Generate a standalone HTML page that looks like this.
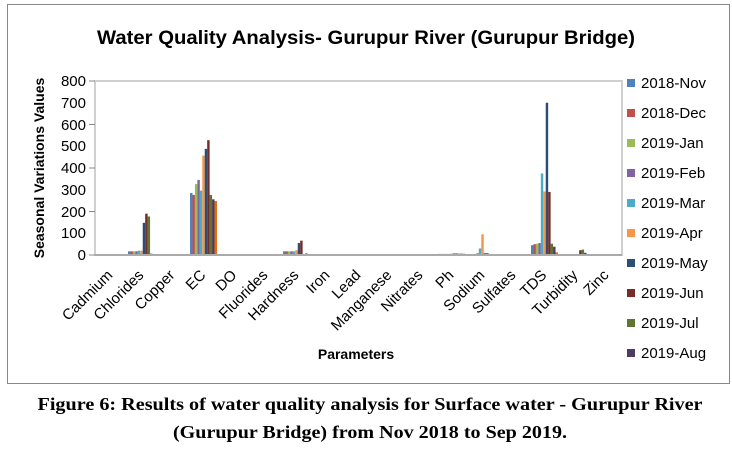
<!DOCTYPE html>
<html><head><meta charset="utf-8"><style>
body{margin:0;background:#fff;width:732px;height:449px;overflow:hidden}
svg text{font-family:"Liberation Sans",sans-serif}
</style></head><body>
<svg width="732" height="449" viewBox="0 0 732 449" xmlns="http://www.w3.org/2000/svg">
<rect x="7.5" y="4.5" width="722" height="379" fill="#fff" stroke="#888" stroke-width="1"/>
<text x="366" y="44" text-anchor="middle" font-weight="bold" font-size="19" textLength="538" lengthAdjust="spacingAndGlyphs">Water Quality Analysis- Gurupur River (Gurupur Bridge)</text>
<rect x="95" y="81" width="527" height="174" fill="none" stroke="#d0d0d0" stroke-width="2"/>
<g font-size="15" text-anchor="end" fill="#000">
<text x="86" y="86">800</text><text x="86" y="108">700</text><text x="86" y="130">600</text><text x="86" y="151">500</text><text x="86" y="173">400</text><text x="86" y="195">300</text><text x="86" y="217">200</text><text x="86" y="238">100</text><text x="86" y="260">0</text>
</g>
<g stroke="#888"><line x1="89" y1="81" x2="95" y2="81"/><line x1="89" y1="255" x2="95" y2="255"/><line x1="89" y1="211.5" x2="95" y2="211.5"/><line x1="89" y1="168" x2="95" y2="168"/><line x1="89" y1="124.5" x2="95" y2="124.5"/></g>
<text transform="translate(44,168) rotate(-90)" text-anchor="middle" font-weight="bold" font-size="14">Seasonal Variations Values</text>
<g id="bars"></g>
<line x1="95" y1="255" x2="622" y2="255" stroke="#aaa" stroke-width="2"/>
<g id="cats" font-size="15"></g>
<text x="356" y="359" text-anchor="middle" font-weight="bold" font-size="14">Parameters</text>
<g id="leg" font-size="15"></g>
<g font-family="'Liberation Serif',serif" font-weight="bold" font-size="18" text-anchor="middle">
<text x="370" y="410" textLength="665" lengthAdjust="spacingAndGlyphs" style="font-family:'Liberation Serif',serif">Figure 6: Results of water quality analysis for Surface water - Gurupur River</text>
<text x="370" y="438" textLength="394" lengthAdjust="spacingAndGlyphs" style="font-family:'Liberation Serif',serif">(Gurupur Bridge) from Nov 2018 to Sep 2019.</text>
</g>
</svg>
<script>
var cols=["#4F81BD","#C0504D","#9BBB59","#8064A2","#4BACC6","#F79646","#2C4D75","#772C2A","#5F7530","#4D3B62","#E46C0A"];
var names=["2018-Nov","2018-Dec","2019-Jan","2019-Feb","2019-Mar","2019-Apr","2019-May","2019-Jun","2019-Jul","2019-Aug"];
var cats=["Cadmium","Chlorides","Copper","EC","DO","Fluorides","Hardness","Iron","Lead","Manganese","Nitrates","Ph","Sodium","Sulfates","TDS","Turbidity","Zinc"];
var z=[0,0,0,0,0,0,0,0,0,0,0];
var d=[z,
[17,17,17,17,20,20,148,190,177,6,3],
[0,0,0,0,0,0,0,0,0,0,0],
[285,276,326,345,296,457,488,528,276,256,248],
[4,4,4,4,4,4,3,4,3,3,3],
[0,0,0,0,0,0,0,0,0,0,0],
[17,17,17,17,17,22,55,66,3,7,3],
z,z,z,z,
[5,5,5,5,5,6,7,7,6,6,6],
[1,1,1,8,30,95,8,8,2,1,2],
[3,3,3,3,3,3,3,3,3,3,3],
[45,50,52,55,375,292,700,290,52,38,12],
[0,0,0,0,0,0,0,22,25,10,2],
[3,3,3,3,3,3,3,3,4,4,3]];
var s="",w=31,bw=2.45;
for(var c=0;c<17;c++){var cx=95+w*c+w/2,x0=cx-bw*5.5;
for(var k=0;k<11;k++){var v=d[c][k];if(v<=0)continue;var h=v*174/800;
s+='<rect x="'+(x0+k*bw).toFixed(2)+'" y="'+(255-h).toFixed(2)+'" width="'+bw+'" height="'+h.toFixed(2)+'" fill="'+cols[k]+'"/>';}}
document.getElementById("bars").innerHTML=s;
s="";for(var c=0;c<17;c++){var cx=95+w*c+w/2+3;
s+='<text transform="translate('+cx+',276) rotate(-45)" text-anchor="end">'+cats[c]+'</text>';}
document.getElementById("cats").innerHTML=s;
s="";for(var i=0;i<10;i++){var y=83+30*i;
s+='<rect x="627" y="'+(y-4)+'" width="8" height="8" fill="'+cols[i]+'"/><text x="641" y="'+(y+5)+'">'+names[i]+'</text>';}
document.getElementById("leg").innerHTML=s;
</script>
</body></html>
